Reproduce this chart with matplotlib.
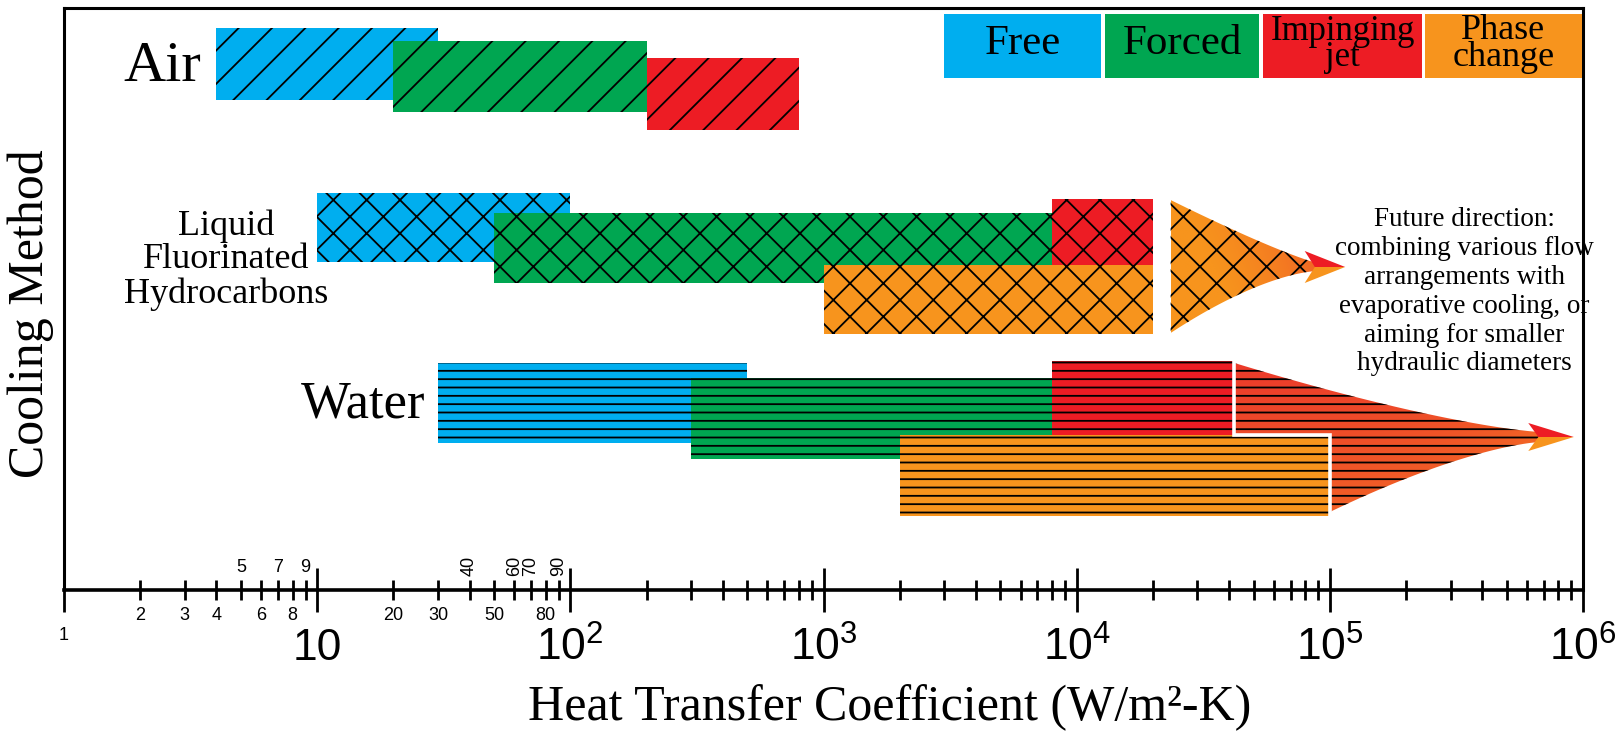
import numpy as np
import matplotlib.pyplot as plt
from matplotlib.patches import Polygon, Rectangle
from matplotlib.ticker import FixedLocator, NullFormatter
from matplotlib.colors import to_rgb

plt.rcParams['font.family'] = ['Liberation Serif', 'DejaVu Serif']
plt.rcParams['hatch.linewidth'] = 1.3
plt.rcParams['mathtext.fontset'] = 'custom'
plt.rcParams['mathtext.rm'] = 'Liberation Sans'

# ---- data (heat transfer coefficient ranges, W/m2-K) ----
media = ["Air", "Liquid\nFluorinated\nHydrocarbons", "Water"]
methods = ["Free", "Forced", "Impinging\njet", "Phase\nchange"]
method_colors = ["#00AEEF", "#00A651", "#ED1C24", "#F7941D"]

air_low = [4, 20, 200, None]
air_high = [30, 200, 800, None]
liquid_low = [10, 50, 8000, 1000]
liquid_high = [100, 8000, 20000, 20000]
water_low = [30, 300, 8000, 2000]
water_high = [500, 8000, 42000, 100000]

# future direction arrows: liquid row, water row
future_start = [23500, 42000]
future_tip = [115000, 920000]

minor_below = [2, 3, 4, 6, 8, 20, 30, 50, 80]
minor_above = [5, 7, 9]
minor_above_rot = [40, 60, 70, 90]
decades = [0, 1, 2, 3, 4, 5, 6]

W, H = 1616, 734

# vertical layout, in pixels from the top of the figure (top, bottom)
air_y = [(28, 100), (41, 112), (58, 130), None]
liquid_y = [(193, 262), (213, 283), (199, 265), (265, 334)]
water_y = [(363, 443), (378, 459), (361, 435), (435, 516)]


def fx(px):
    return px / W


def fy(py):
    return 1 - py / H


fig = plt.figure(figsize=(W / 100, H / 100), dpi=100)
ax = fig.add_axes([fx(64), fy(590), (1583 - 64) / W, (590 - 8) / H])
ax.set_xscale('log')

rows = [(air_low, air_high, air_y, '/'),
        (liquid_low, liquid_high, liquid_y, 'x'),
        (water_low, water_high, water_y, '--')]

z = 2
for low, high, ys, hatch in rows:
    for lo, hi, yy, col in zip(low, high, ys, method_colors):
        if lo is None:
            continue
        t, b = yy
        ax.barh((t + b) / 2, hi - lo, left=lo, height=b - t, color=col,
                hatch=hatch, edgecolor='black', linewidth=0, zorder=z)
        z += 1


def gradient_poly(verts, c0, c1, wx, wy, hatch, zorder):
    xs = [v[0] for v in verts]
    ys = [v[1] for v in verts]
    l, r = min(xs), max(xs)
    t, b = min(ys), max(ys)
    n = 120
    ux = np.linspace(0, 1, n)[None, :]
    vy = np.linspace(0, 1, n)[:, None]
    s = np.clip(wx * ux + wy * vy, 0, 1)
    a, bb = np.array(to_rgb(c0)), np.array(to_rgb(c1))
    img = a[None, None, :] + (bb - a)[None, None, :] * s[:, :, None]
    poly = Polygon(verts, closed=True, facecolor='none', edgecolor='none',
                   zorder=zorder)
    ax.add_patch(poly)
    im = ax.imshow(img, extent=(l, r, b, t), origin='upper', aspect='auto',
                   zorder=zorder, interpolation='bilinear')
    im.set_clip_path(poly)
    hp = Polygon(verts, closed=True, facecolor='none', edgecolor='black',
                 linewidth=0, hatch=hatch, zorder=zorder + 0.5)
    ax.add_patch(hp)


def curve(lx_a, lx_b, y_a, y_b, p, n=60):
    u = np.linspace(0, 1, n)
    lx = lx_a + u * (lx_b - lx_a)
    y = y_a + (y_b - y_a) * (1 - (1 - u) ** p)
    return list(zip(10 ** lx, y))


def arrow_head(lx_base, lx_tip, yc, h, zorder):
    notch = lx_base + 0.04
    up = [(10 ** lx_base, yc - h), (10 ** lx_tip, yc), (10 ** notch, yc)]
    lo = [(10 ** notch, yc), (10 ** lx_tip, yc), (10 ** lx_base, yc + h)]
    ax.add_patch(Polygon(up, closed=True, facecolor='#ED1C24',
                         edgecolor='none', zorder=zorder))
    ax.add_patch(Polygon(lo, closed=True, facecolor='#F7941D',
                         edgecolor='none', zorder=zorder))


# liquid row future arrow
lx0, ltip = np.log10(future_start[0]), np.log10(future_tip[0])
lbase = ltip - 0.16
lbody = lbase + 0.05
yc = 267
top = curve(lx0, lbody, 200, yc - 4, 1.15)
bot = curve(lx0, lbody, 333, yc + 4, 1.55)
gradient_poly(top + bot[::-1], '#F7941D', '#EF4A2A', 0.75, -0.25, 'x', 20)
arrow_head(lbase, ltip, yc, 16, 22)

# water row future arrow (behind the step of the last two bars)
lx0, ltip = np.log10(future_start[1]), np.log10(future_tip[1])
lph = np.log10(water_high[3])
lbase = ltip - 0.18
lbody = lbase + 0.05
yc = 437
top = curve(lx0, lbody, 363, yc - 5, 1.35)
bot = curve(lph, lbody, 512, yc + 5, 1.45)
verts = top + bot[::-1] + [(water_high[3], water_y[2][1]),
                           (future_start[1], water_y[2][1])]
gradient_poly(verts, '#EC3A2B', '#F47424', 0.45, 0.6, '--', 1)
arrow_head(lbase, ltip, yc, 14, 22)
ax.plot([water_high[2], water_high[2], water_high[3], water_high[3]],
        [water_y[2][0], water_y[2][1], water_y[2][1], water_y[3][1]],
        color='white', linewidth=2.6, zorder=30, solid_joinstyle='miter')

# axes styling
ax.set_xlim(1, 1e6)
ax.set_ylim(590, 8)
ax.xaxis.set_major_locator(FixedLocator([10.0 ** d for d in decades]))
ax.xaxis.set_minor_locator(FixedLocator(
    [m * 10.0 ** d for d in decades[:-1] for m in range(2, 10)]))
ax.xaxis.set_major_formatter(NullFormatter())
ax.xaxis.set_minor_formatter(NullFormatter())
ax.set_yticks([])
ax.tick_params(axis='x', which='major', direction='inout', length=32,
               width=2, color='black')
ax.tick_params(axis='x', which='minor', direction='inout', length=14,
               width=2, color='black')
for side in ['left', 'right', 'top']:
    ax.spines[side].set_linewidth(2.2)
ax.spines['bottom'].set_linewidth(2.6)

# tick labels
sans = 'Liberation Sans'
for d in decades:
    if d == 0:
        ax.text(1, 635, '1', ha='center', va='center', fontsize=13,
                family=sans, clip_on=False)
    elif d == 1:
        ax.text(10, 648, '10', ha='center', va='center', fontsize=32,
                family=sans, clip_on=False)
    else:
        ax.text(10.0 ** d, 648, r'$\mathregular{10^{%d}}$' % d, ha='center',
                va='center', fontsize=32, family=sans, clip_on=False)
for v in minor_below:
    ax.text(v, 616, str(v), ha='center', va='center', fontsize=13,
            family=sans, clip_on=False)
for v in minor_above:
    ax.text(v, 568, str(v), ha='center', va='center', fontsize=13,
            family=sans, clip_on=False)
for v in minor_above_rot:
    ax.text(v, 576, str(v), ha='center', va='bottom', fontsize=13,
            family=sans, rotation=90, clip_on=False)

# row labels
fig.text(fx(162), fy(67), media[0], ha='center', va='center', fontsize=42)
fig.text(fx(226), fy(260), media[1], ha='center', va='center', fontsize=26,
         linespacing=1.02)
fig.text(fx(363), fy(405), media[2], ha='center', va='center', fontsize=38)

fig.text(fx(31), fy(314), 'Cooling Method', rotation=90, ha='center',
         va='center', fontsize=36)
fig.text(fx(890), fy(708), 'Heat Transfer Coefficient (W/m\u00b2-K)',
         ha='center', va='center', fontsize=36)

fig.text(fx(1464), fy(292),
         'Future direction:\ncombining various flow\narrangements with\n'
         'evaporative cooling, or\naiming for smaller\nhydraulic diameters',
         ha='center', va='center', fontsize=19.5, linespacing=1.2)

# method key
key_x = [(944, 1101), (1105, 1259), (1263, 1422), (1425, 1582)]
key_size = [31, 31, 25, 26]
key_ls = [1.0, 1.0, 0.72, 0.78]
for (x0, x1), col, lab, fs, ls in zip(key_x, method_colors, methods,
                                      key_size, key_ls):
    fig.add_artist(Rectangle((fx(x0), fy(78)), fx(x1 - x0), (78 - 14) / H,
                             transform=fig.transFigure, facecolor=col,
                             edgecolor='none'))
    fig.text(fx((x0 + x1) / 2), fy(44), lab, ha='center', va='center',
             fontsize=fs, linespacing=ls)

fig.savefig('out.png', dpi=100)
